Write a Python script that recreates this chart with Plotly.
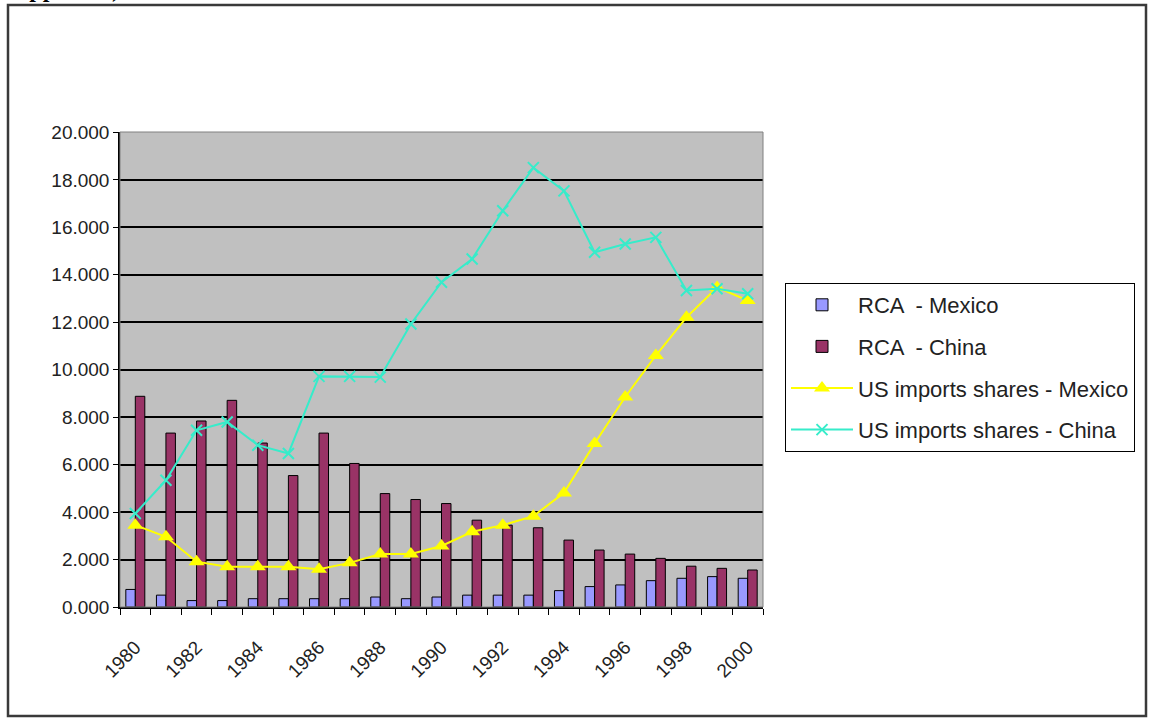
import plotly.graph_objects as go

years = list(range(1980, 2001))
rca_mexico = [0.74, 0.50, 0.27, 0.27, 0.35, 0.35, 0.35, 0.35, 0.42, 0.35, 0.42,
              0.50, 0.50, 0.50, 0.69, 0.86, 0.93, 1.11, 1.21, 1.28, 1.21]
rca_china = [8.88, 7.33, 7.84, 8.71, 6.91, 5.54, 7.33, 6.05, 4.78, 4.53, 4.36,
             3.66, 3.45, 3.34, 2.82, 2.40, 2.23, 2.05, 1.72, 1.63, 1.56]
us_mexico = [3.45, 2.96, 1.91, 1.70, 1.70, 1.70, 1.59, 1.86, 2.23, 2.23, 2.57,
             3.17, 3.45, 3.83, 4.81, 6.89, 8.85, 10.60, 12.21, 13.47, 12.92]
us_china = [3.94, 5.34, 7.45, 7.80, 6.82, 6.47, 9.72, 9.72, 9.69, 11.93, 13.69,
            14.67, 16.70, 18.52, 17.54, 14.95, 15.30, 15.58, 13.34, 13.41, 13.20]
label_years = list(range(1980, 2001, 2))
y_ticks = list(range(0, 21, 2))

FONT = "Liberation Sans, Arial, sans-serif"

fig = go.Figure()
fig.add_trace(go.Bar(x=years, y=rca_mexico, name="RCA  - Mexico", legendgroup="a",
                     marker=dict(color="#9999ff", line=dict(color="black", width=1))))
fig.add_trace(go.Bar(x=years, y=rca_china, name="RCA  - China", legendgroup="b",
                     marker=dict(color="#993366", line=dict(color="black", width=1))))
fig.add_trace(go.Scatter(x=years, y=us_mexico, name="US imports shares - Mexico", legendgroup="c",
                         mode="lines+markers", line=dict(color="#ffff00", width=2),
                         marker=dict(symbol="triangle-up", size=14, color="#ffff00")))
fig.add_trace(go.Scatter(x=years, y=us_china, name="US imports shares - China", legendgroup="d",
                         mode="lines+markers", line=dict(color="#36ecca", width=2),
                         marker=dict(symbol="x-thin", size=11, color="#36ecca",
                                     line=dict(color="#36ecca", width=2))))

L, R, T, B = 120, 763, 132, 607
W, H = 1149, 719
pw, ph = R - L, B - T

def px(x):
    return (x - L) / pw

def py(y):
    return (B - y) / ph

fig.update_layout(
    width=W, height=H,
    margin=dict(l=L, r=W - R, t=T, b=H - B, autoexpand=False),
    paper_bgcolor="white",
    plot_bgcolor="#c0c0c0",
    barmode="group",
    bargap=0.38,
    bargroupgap=0,
    font=dict(family=FONT, size=18, color="#222"),
    legend=dict(x=px(785), y=py(283), xanchor="left", yanchor="top",
                bordercolor="black", borderwidth=1, bgcolor="white",
                font=dict(family=FONT, size=22, color="#222"),
                traceorder="grouped", tracegroupgap=10, itemwidth=62),
    xaxis=dict(range=[1979.5, 2000.5], tickmode="array", tickvals=label_years,
               ticktext=[str(v) for v in label_years], tickangle=-45, ticks="",
               ticklabelstandoff=20, showgrid=False, showline=True, linecolor="black",
               linewidth=1.5, zeroline=False,
               tickfont=dict(family=FONT, size=19, color="#222"),
               minor=dict(tickmode="array", tickvals=[y - 0.5 for y in years] + [2000.5],
                          ticks="outside", ticklen=6, tickcolor="black", showgrid=False)),
    yaxis=dict(range=[0, 20.02], tickmode="array", tickvals=y_ticks,
               tickformat=".3f", ticks="outside", ticklen=5, tickcolor="black",
               showgrid=True, gridcolor="black", gridwidth=1.6,
               showline=True, linecolor="black", linewidth=1.5, zeroline=False,
               tickfont=dict(family=FONT, size=19, color="#222")),
    shapes=[
        dict(type="rect", xref="paper", yref="paper", x0=0, x1=1, y0=0, y1=1,
             line=dict(color="#808080", width=1), layer="above"),
        dict(type="rect", xref="paper", yref="paper",
             x0=px(8), x1=px(1146), y0=py(716), y1=py(5),
             line=dict(color="#3a3a3a", width=2.5), layer="above"),
    ],
    annotations=[
        dict(text="<b>Appendix)</b>", xref="paper", yref="paper",
             x=px(10), y=py(4), xanchor="left", yanchor="bottom", showarrow=False,
             font=dict(family="Liberation Serif, Times New Roman, serif", size=24, color="black")),
    ],
)

fig.write_html("out.html")
